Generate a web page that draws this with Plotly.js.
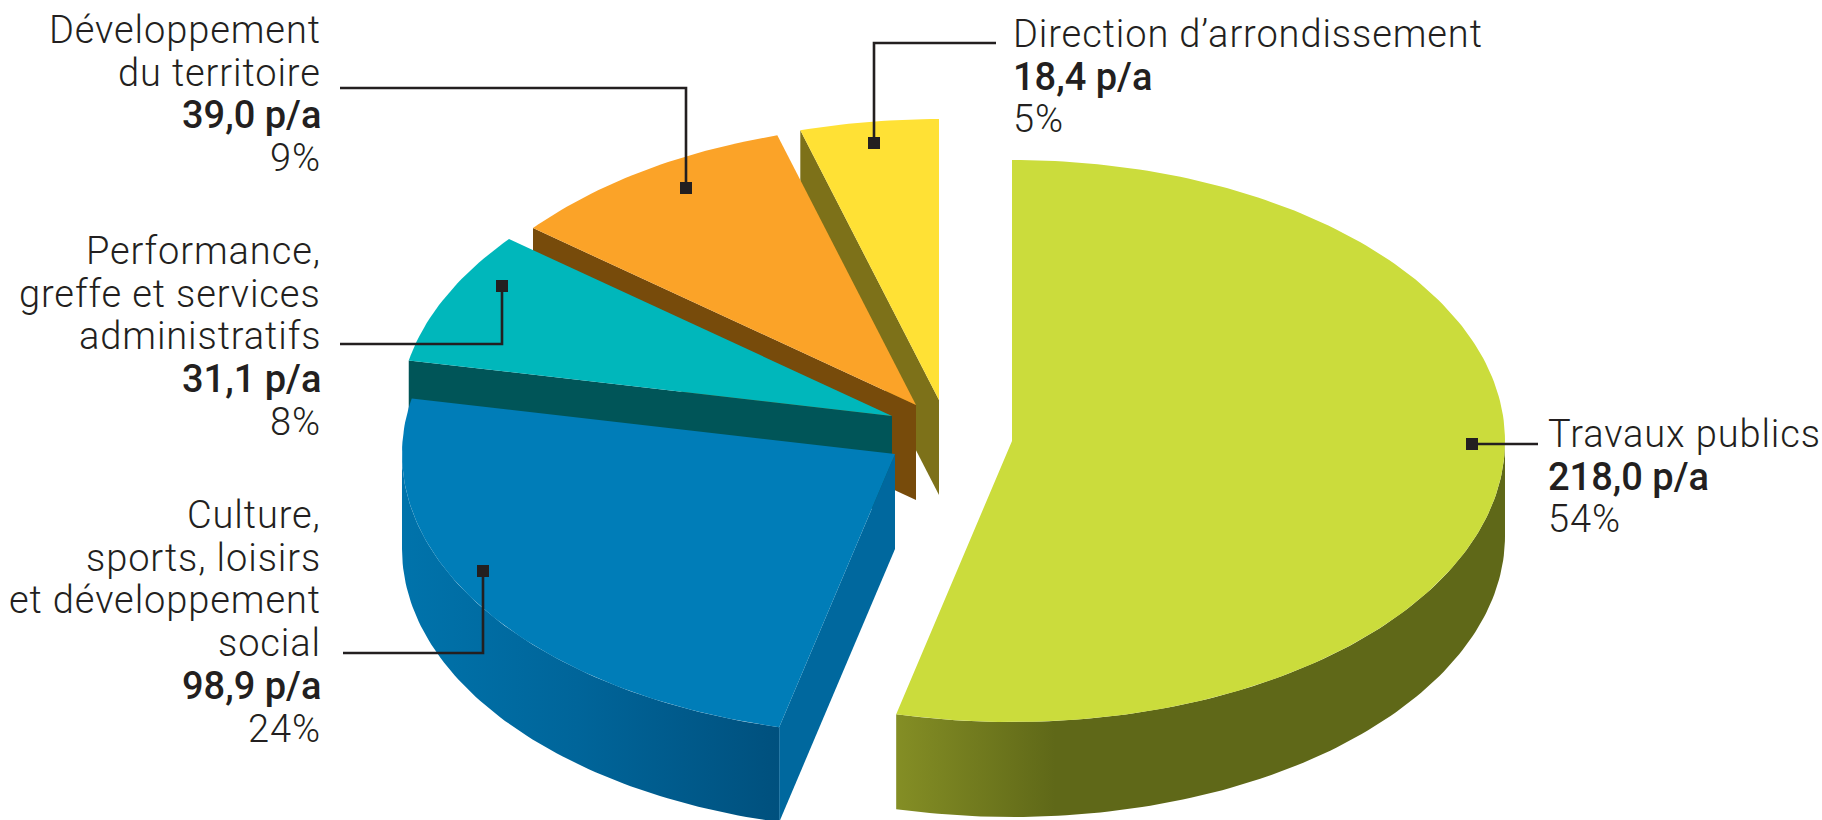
<!DOCTYPE html>
<html lang="fr">
<head>
<meta charset="utf-8">
<title>Répartition de l'effectif par direction</title>
<script src="https://cdn.plot.ly/plotly-3.0.1.min.js"></script>
<style>
html,body{margin:0;padding:0;background:#fff}
#chart{width:1822px;height:820px}
/* open tracking on the regular label lines */
text.annotation-text[style*="font-weight: 300"]{letter-spacing:0.9px}
</style>
</head>
<body>
<div id="chart"></div>
<script>
// Effectif par direction, in pie order (clockwise from twelve o'clock)
const categories = [
  ['Travaux publics'],
  ['Culture,', 'sports, loisirs', 'et développement', 'social'],
  ['Performance,', 'greffe et services', 'administratifs'],
  ['Développement', 'du territoire'],
  ['Direction d’arrondissement']
];
const personYears = [218.0, 98.9, 31.1, 39.0, 18.4];
const percentLabels = ['54%', '24%', '8%', '9%', '5%'];

// Pixel-space geometry of the tilted, exploded pie
const RX = 493, RY = 281, DEPTH = 95;
const apexes = [[1012, 441], [895, 454], [892, 416], [916, 405], [939, 400]];
const topColors = ['#CBDC3C', '#007DB8', '#00B7BB', '#FBA328', '#FFE135'];
const faceColors = [null, '#00689E', '#005558', '#774B0B', '#7D7119'];

// Leader lines: label side first, marker end last
const leaders = [
  [[1538, 444], [1472, 444]],
  [[343, 653], [483, 653], [483, 571]],
  [[340, 344], [502, 344], [502, 286]],
  [[340, 88], [686, 88], [686, 188]],
  [[996, 43], [874, 43], [874, 143]]
];
// Label columns: anchor side, x, first baseline
const labelPlaces = [
  ['left', 1547, 447], ['right', 322, 528], ['right', 322, 264], ['right', 322, 43], ['left', 1012, 47]
];
const LINE_STEP = 42.7, FONT_SIZE = 38, BASELINE_SHIFT = 13;
const INK = '#231F20', FONT = 'Roboto, sans-serif';

const total = personYears.reduce((a, b) => a + b, 0);
const spans = [];
personYears.reduce((start, v) => {
  const end = start + v / total * 360;
  spans.push([start, end]);
  return end;
}, 0);

const rad = d => d * Math.PI / 180;
const rim = (apex, deg, drop = 0) => [
  apex[0] + RX * Math.sin(rad(deg)),
  apex[1] - RY * Math.cos(rad(deg)) + drop
];
const arc = (apex, from, to, drop = 0) => {
  const pts = [], n = Math.max(2, Math.ceil(Math.abs(to - from)));
  for (let i = 0; i <= n; i++) pts.push(rim(apex, from + (to - from) * i / n, drop));
  return pts;
};
const poly = (pts, extra) => Object.assign({
  type: 'scatter', mode: 'lines', x: pts.map(p => p[0]), y: pts.map(p => p[1]),
  fill: 'toself', line: {width: 0}, hoverinfo: 'skip', showlegend: false
}, extra);

const traces = [];
// Slices are painted back to front: yellow first, green last
[4, 3, 2, 1, 0].forEach(i => {
  const a = apexes[i], [s, e] = spans[i];
  if (faceColors[i]) {
    const c = rim(a, s);
    traces.push(poly([a, c, [c[0], c[1] + DEPTH], [a[0], a[1] + DEPTH], a], {fillcolor: faceColors[i]}));
  }
  if (i === 1) {
    const pts = arc(a, s, 270).concat(arc(a, 270, s, DEPTH));
    traces.push(poly(pts, {fillgradient: {type: 'horizontal', start: 402, stop: 790,
      colorscale: [[0, '#0073AB'], [0.45, '#00659A'], [1, '#004F7C']]}}));
  }
  if (i === 0) {
    const pts = arc(a, 90, e).concat(arc(a, e, 90, DEPTH));
    traces.push(poly(pts, {fillgradient: {type: 'horizontal', start: 880, stop: 1505,
      colorscale: [[0, '#889226'], [0.28, '#5F6818'], [1, '#5F6818']]}}));
  }
  traces.push(poly([a].concat(arc(a, s, e), [a]), {fillcolor: topColors[i]}));
});

// Leader lines with their square end markers
leaders.forEach(path => {
  traces.push({type: 'scatter', mode: 'lines', x: path.map(p => p[0]), y: path.map(p => p[1]),
    line: {color: INK, width: 2.6}, hoverinfo: 'skip', showlegend: false});
});
traces.push({type: 'scatter', mode: 'markers',
  x: leaders.map(p => p[p.length - 1][0]), y: leaders.map(p => p[p.length - 1][1]),
  marker: {symbol: 'square', size: 12, color: INK, line: {width: 0}},
  hoverinfo: 'skip', showlegend: false});

// One annotation per text line, which keeps the tight leading
const annotations = [];
categories.forEach((lines, i) => {
  const [side, x, y0] = labelPlaces[i];
  const rows = lines.map(t => [t, 300])
    .concat([[personYears[i].toFixed(1).replace('.', ',') + ' p/a', 500], [percentLabels[i], 300]]);
  rows.forEach(([text, weight], k) => {
    annotations.push({
      text, x, y: y0 + k * LINE_STEP - BASELINE_SHIFT, xref: 'x', yref: 'y',
      xanchor: side, yanchor: 'middle', showarrow: false, borderpad: 0,
      font: {family: FONT, size: FONT_SIZE, color: INK, weight}
    });
  });
});

Plotly.newPlot('chart', traces, {
  width: 1822, height: 820, margin: {l: 0, r: 0, t: 0, b: 0},
  paper_bgcolor: '#FFFFFF', plot_bgcolor: '#FFFFFF', showlegend: false,
  xaxis: {range: [0, 1822], visible: false, fixedrange: true},
  yaxis: {range: [820, 0], visible: false, fixedrange: true},
  annotations
}, {displayModeBar: false, staticPlot: true});
</script>
</body>
</html>
